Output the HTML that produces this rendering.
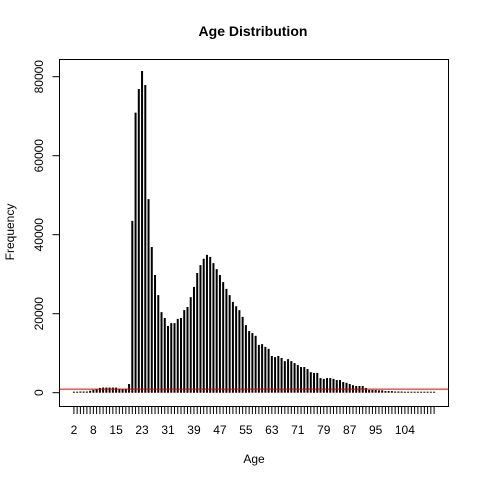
<!DOCTYPE html>
<html><head><meta charset="utf-8"><style>
html,body{margin:0;padding:0;background:#fff;}
svg{display:block;font-family:"Liberation Sans",Arial,sans-serif;}
</style></head><body>
<svg id="chart" width="480" height="480" viewBox="0 0 480 480" xmlns="http://www.w3.org/2000/svg">
<rect width="480" height="480" fill="#fff"/>
<text x="253" y="36" text-anchor="middle" font-size="14" font-weight="bold">Age Distribution</text>
<text x="254" y="463" text-anchor="middle" font-size="12">Age</text>
<text transform="translate(14,232) rotate(-90)" text-anchor="middle" font-size="12">Frequency</text>
<rect x="59.5" y="59.5" width="389" height="347" fill="none" stroke="#000" stroke-width="1"/>
<g id="bars"></g><g id="xticks"></g><g id="yticks"></g>
</svg>
<script>
const ages = [];
for (let a = 2; a <= 113; a++) ages.push(a);
const counts = [100,150,300,300,300,500,700,800,1200,1300,1300,1300,1300,1300,1000,900,1000,2200,
43500,70900,76900,81450,77900,49000,36900,29800,24700,20400,18900,16900,17600,17600,18700,18900,20900,21700,24200,26800,
30300,32300,33900,34900,34400,32800,31300,29800,28000,26300,24700,23000,21900,20900,19200,17100,15600,15100,14400,12100,
12300,11600,11100,9300,9000,9300,8800,8000,8500,8000,7500,7000,6500,6500,6000,5200,5000,5000,3700,3500,3700,3700,3500,
3200,3200,2700,2500,2200,1900,1700,1700,1700,1200,700,700,700,600,600,400,400,400,300,300,300,200,200,
50,50,50,50,50,50,50,50];
const xLabels = [2,8,15,23,31,39,47,55,63,71,79,87,95,104];
const yTicks = [0,20000,40000,60000,80000];
const refLine = [900];

const NS = "http://www.w3.org/2000/svg";
const n = ages.length;
const pad = (n - 1) * 0.04;
function xScale(i){ return 59.5 + (i + pad) * (389 / ((n - 1) + 2 * pad)); }
function yScale(v){ return 392.7 - v * (316 / 80000); }

const bars = document.getElementById('bars');
counts.forEach((c, i) => {
  const l = document.createElementNS(NS, 'line');
  
  
  const x = xScale(i);
  l.setAttribute('x1', x); l.setAttribute('x2', x);
  l.setAttribute('y1', yScale(0)); l.setAttribute('y2', Math.min(yScale(c), yScale(0) - 1));
  l.setAttribute('stroke', '#000'); l.setAttribute('stroke-width', '2');
  bars.appendChild(l);
});
refLine.forEach(v => {
  const r = document.createElementNS(NS, 'line');
  
  
  r.setAttribute('x1', 59.5); r.setAttribute('x2', 448.5);
  r.setAttribute('y1', yScale(v)); r.setAttribute('y2', yScale(v));
  r.setAttribute('stroke', '#e00000'); r.setAttribute('stroke-width', '1');
  bars.appendChild(r);
});
const xt = document.getElementById('xticks');
ages.forEach((a, i) => {
  const t = document.createElementNS(NS, 'line');
  
  
  const x = xScale(i);
  t.setAttribute('x1', x); t.setAttribute('x2', x);
  t.setAttribute('y1', 407); t.setAttribute('y2', 414);
  t.setAttribute('stroke', '#000'); t.setAttribute('stroke-width', '1');
  xt.appendChild(t);
  if (xLabels.includes(a)) {
    const tx = document.createElementNS(NS, 'text');
    
    
    tx.setAttribute('x', x); tx.setAttribute('y', 434);
    tx.setAttribute('text-anchor', 'middle'); tx.setAttribute('font-size', '12');
    tx.textContent = a;
    xt.appendChild(tx);
  }
});
const yt = document.getElementById('yticks');
yTicks.forEach(v => {
  const y = yScale(v);
  const t = document.createElementNS(NS, 'line');
  
  
  t.setAttribute('x1', 52.5); t.setAttribute('x2', 59.5);
  t.setAttribute('y1', y); t.setAttribute('y2', y);
  t.setAttribute('stroke', '#000');
  yt.appendChild(t);
  const tx = document.createElementNS(NS, 'text');
  
  
  tx.setAttribute('transform', 'translate(43,' + y + ') rotate(-90)');
  tx.setAttribute('text-anchor', 'middle'); tx.setAttribute('font-size', '12');
  tx.textContent = v;
  yt.appendChild(tx);
});
</script>
</body></html>
